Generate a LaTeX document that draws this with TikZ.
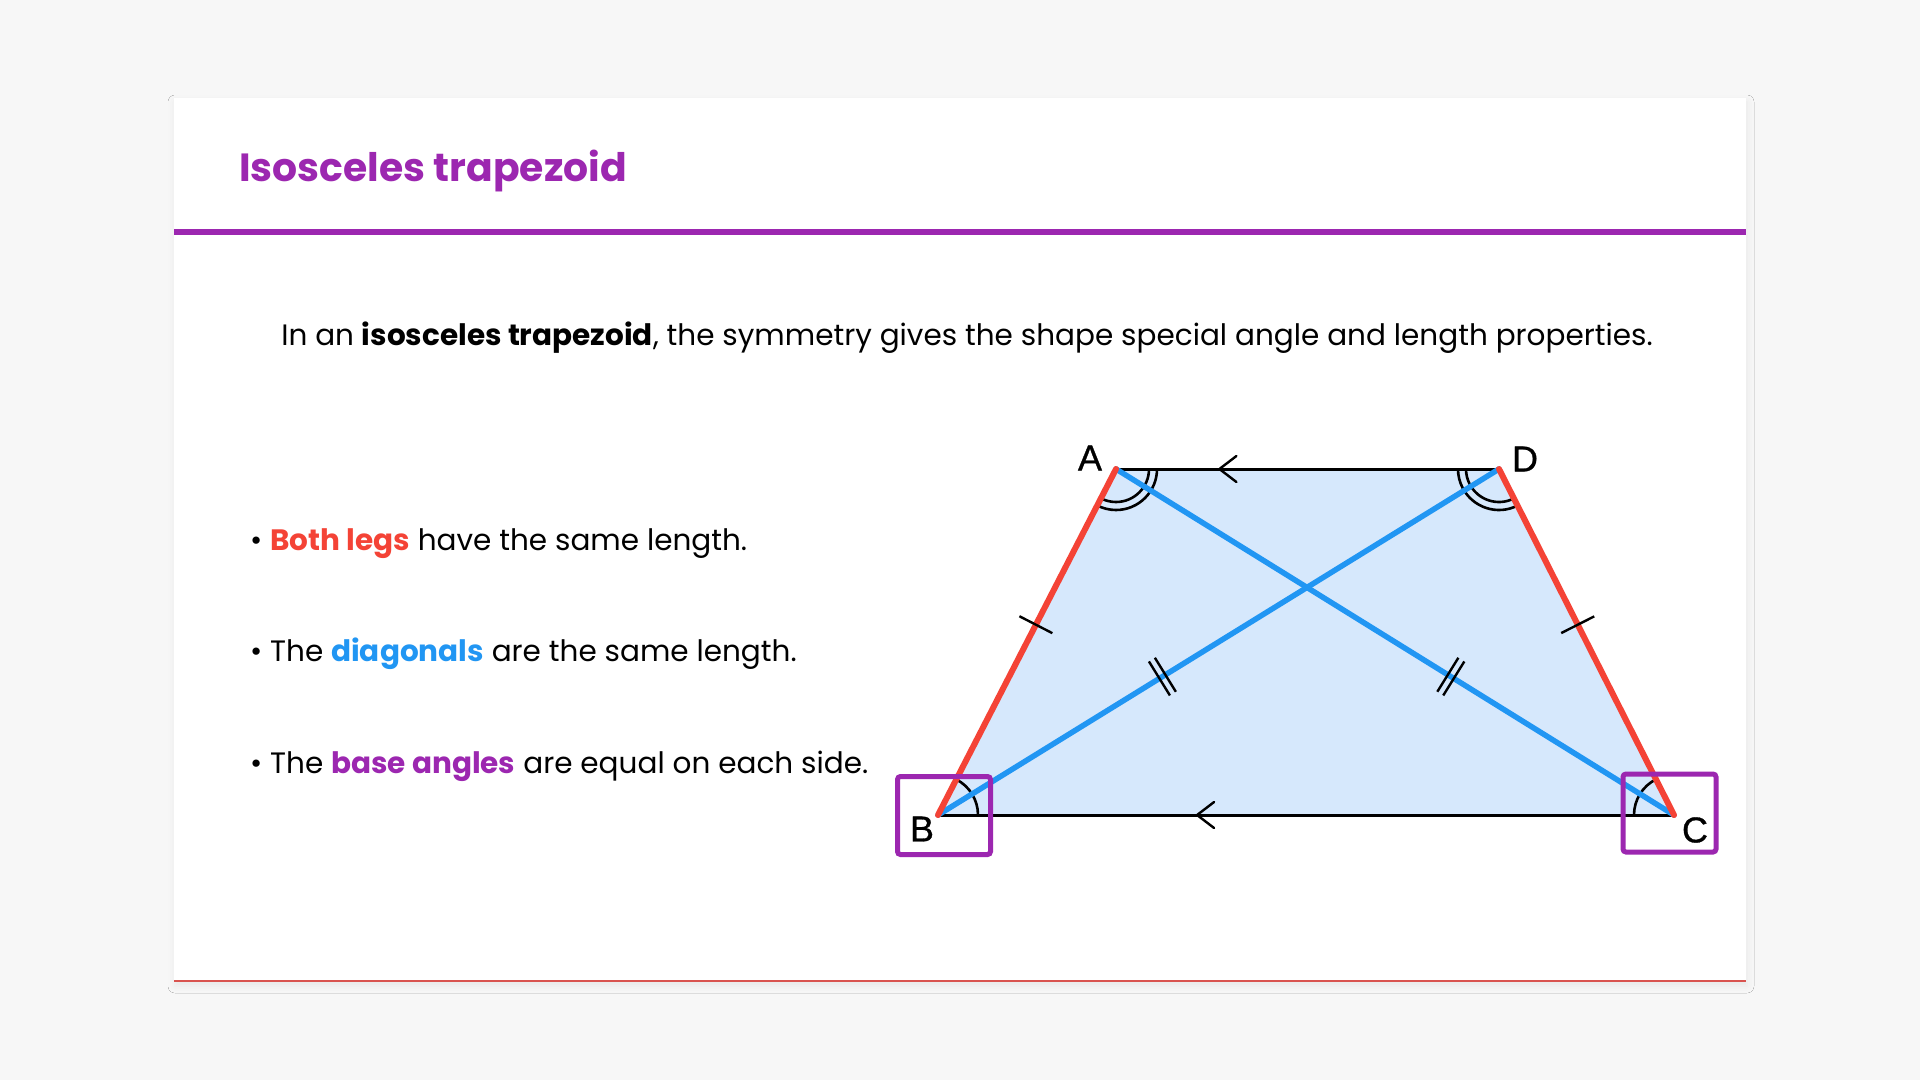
\documentclass[tikz,border=0pt]{standalone}
\usepackage{fontspec}
\setmainfont{Poppins}
\newfontfamily\vertexfont{Liberation Sans}[FakeBold=0.8]
\usetikzlibrary{calc,shadows.blur}

\definecolor{pagegray}{HTML}{F7F7F7}
\definecolor{legred}{HTML}{F44336}
\definecolor{diagblue}{HTML}{2196F3}
\definecolor{trappurple}{HTML}{9C27B0}
\definecolor{trapfill}{HTML}{D6E8FC}
\definecolor{edgered}{HTML}{D9534F}

\begin{document}
\begin{tikzpicture}[x=1pt,y=-1pt,
  bodytext/.style={font=\fontsize{29.5}{36}\selectfont, inner sep=0pt},
  baseside/.style={line width=3pt, color=black, line cap=round},
  legline/.style={line width=6pt, color=legred, line cap=round},
  diagline/.style={line width=5.5pt, color=diagblue, line cap=round},
  anglearc/.style={line width=2.6pt, color=black},
  tickmark/.style={line width=2.4pt, color=black},
  chevron/.style={line width=2.4pt, color=black, line cap=round, line join=miter},
  cornerbox/.style={draw=trappurple, line width=5pt, rounded corners=3pt, inner sep=0pt},
  vertexlabel/.style={font=\vertexfont\fontsize{36}{36}\selectfont, inner sep=0pt}]

\useasboundingbox (0,0) rectangle (1920,1080);
\fill [pagegray] (0,0) rectangle (1920,1080);

\fill [white, blur shadow={shadow xshift=1pt, shadow yshift=-4pt, shadow blur radius=7pt, shadow opacity=6}]
(174,98) rectangle (1746,982);
\draw [line width=1.5pt, color=edgered] (174,981.2) -- (1746,981.2);
\draw [line width=6pt, color=trappurple] (174,232) -- (1746,232);

\node [anchor=base west, inner sep=0pt, text=trappurple, font=\fontsize{39.3}{46}\selectfont\bfseries]
(title) at (239,181) {Isosceles trapezoid};

\node [bodytext, anchor=base] (intro) at (967,345)
{In an \textbf{isosceles trapezoid}, the symmetry gives the shape special angle and length properties.};

\node [bodytext, anchor=base west] (legsnote) at (250,550)
{• \textcolor{legred}{\textbf{Both legs}} have the same length.};
\node [bodytext, anchor=base west] (diagnote) at (250,661)
{• The \textcolor{diagblue}{\textbf{diagonals}} are the same length.};
\node [bodytext, anchor=base west] (anglenote) at (250,773)
{• The \textcolor{trappurple}{\textbf{base angles}} are equal on each side.};

\coordinate (A) at (1116,469);
\coordinate (D) at (1499,469);
\coordinate (B) at (938,815);
\coordinate (C) at (1674,815);

\fill [trapfill] (A) -- (D) -- (C) -- (B) -- cycle;

\draw [anglearc] ($(A)+(0:33)$) arc [start angle=0, end angle=117.2, radius=33];
\draw [anglearc] ($(A)+(0:41)$) arc [start angle=0, end angle=117.2, radius=41];
\draw [anglearc] ($(D)+(63.2:33)$) arc [start angle=63.2, end angle=180, radius=33];
\draw [anglearc] ($(D)+(63.2:41)$) arc [start angle=63.2, end angle=180, radius=41];
\draw [anglearc] ($(B)+(0:40)$) arc [start angle=0, end angle=-62.8, radius=40];
\draw [anglearc] ($(C)+(180:40)$) arc [start angle=180, end angle=243.2, radius=40];

\draw [baseside] (A) -- (D);
\draw [baseside] (B) -- (C);

\draw [diagline] (A) -- (C);
\draw [diagline] (B) -- (D);

\draw [legline] (A) -- (B);
\draw [legline] (D) -- (C);

\coordinate (abtick) at ($(A)!0.45!(B)$);
\coordinate (dctick) at ($(D)!0.45!(C)$);
\draw [tickmark] ($(abtick)!18.5pt!90:(B)$) -- ($(abtick)!18.5pt!-90:(B)$);
\draw [tickmark] ($(dctick)!18.5pt!90:(C)$) -- ($(dctick)!18.5pt!-90:(C)$);

\coordinate (bdtick) at ($(B)!0.4!(D)$);
\coordinate (bdtickone) at ($(bdtick)!3.5pt!(D)$);
\coordinate (bdticktwo) at ($(bdtick)!-3.5pt!(D)$);
\draw [tickmark] ($(bdtickone)!20pt!90:(D)$) -- ($(bdtickone)!20pt!-90:(D)$);
\draw [tickmark] ($(bdticktwo)!20pt!90:(D)$) -- ($(bdticktwo)!20pt!-90:(D)$);

\coordinate (catick) at ($(C)!0.4!(A)$);
\coordinate (catickone) at ($(catick)!3.5pt!(A)$);
\coordinate (caticktwo) at ($(catick)!-3.5pt!(A)$);
\draw [tickmark] ($(catickone)!20pt!90:(A)$) -- ($(catickone)!20pt!-90:(A)$);
\draw [tickmark] ($(caticktwo)!20pt!90:(A)$) -- ($(caticktwo)!20pt!-90:(A)$);

\coordinate (adarrow) at ($(A)!0.27!(D)$);
\coordinate (bcarrow) at ($(B)!0.352!(C)$);
\draw [chevron] ($(adarrow)+(17,-13)$) -- (adarrow) -- ($(adarrow)+(17,13)$);
\draw [chevron] ($(bcarrow)+(17,-13)$) -- (bcarrow) -- ($(bcarrow)+(17,13)$);

\node [cornerbox, minimum width=93pt, minimum height=78pt] (boxB) at ($(B)+(6,0.5)$) {};
\node [cornerbox, minimum width=93pt, minimum height=78pt] (boxC) at ($(C)+(-4.5,-2)$) {};

\node [vertexlabel] (labelA) at ($(A)+(-26,-11)$) {A};
\node [vertexlabel] (labelD) at ($(D)+(26,-10)$) {D};
\node [vertexlabel] (labelB) at ($(B)+(-16,14)$) {B};
\node [vertexlabel] (labelC) at ($(C)+(21,15)$) {C};
\end{tikzpicture}
\end{document}
